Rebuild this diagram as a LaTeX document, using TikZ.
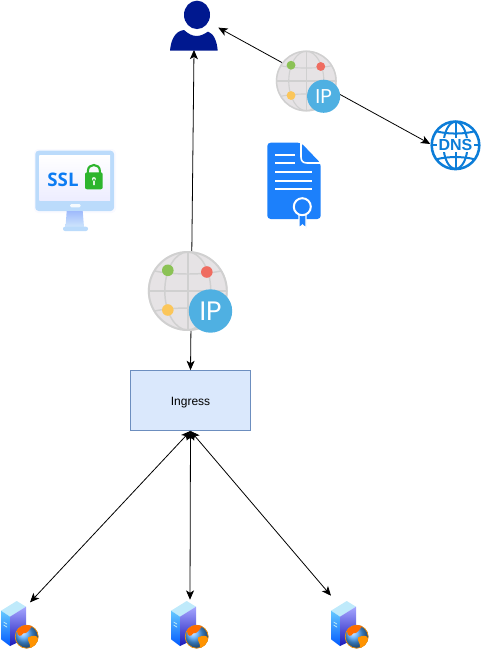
\documentclass[tikz,border=0pt]{standalone}
\usepackage{fontspec}
\setmainfont{Liberation Sans}
\newfontfamily\iconfont{Open Sans}
\newfontfamily\ipfont{Poppins}
\usetikzlibrary{arrows.meta}
\definecolor{UserBlue}{HTML}{00188F}
\definecolor{GlobeGrey}{HTML}{E6E3E5}
\definecolor{GlobeLine}{HTML}{D0D0D0}
\definecolor{DotGreen}{HTML}{8BC255}
\definecolor{DotRed}{HTML}{EF6C60}
\definecolor{DotYellow}{HTML}{FBC65A}
\definecolor{IpBlue}{HTML}{4FB0E2}
\definecolor{CertBlue}{HTML}{1C80FB}
\definecolor{DnsBlue}{HTML}{0C7DD8}
\definecolor{SslBlue}{HTML}{0D7CF2}
\definecolor{ScreenBlue}{HTML}{BBDBFB}
\definecolor{LockGreen}{HTML}{2DB52D}
\definecolor{IngressFill}{HTML}{DAE8FC}
\definecolor{IngressLine}{HTML}{6C8EBF}
\tikzset{
  % ── icons, local units are pixels around the centre ──────
  pics/usericon/.style={code={
    \fill[UserBlue] (3,-10.75) ellipse (13 and 14.2);
    \fill[UserBlue] (-24,25) .. controls (-23,14) and (-19,5.5) .. (-10,4.4)
      .. controls (-6,8) and (-2,10.4) .. (2.7,10.4)
      .. controls (7,10.4) and (11,8) .. (14,6)
      .. controls (20,8) and (23,16) .. (23.7,25) -- cycle;
  }},
  pics/ipglobe/.style 2 args={code={
    \fill[GlobeGrey] (0,0) circle (40);
    \draw[GlobeLine, line width=#2*1.3] (0,0) circle (39);
    \draw[GlobeLine, line width=#2] (0,0) ellipse (23 and 39);
    \draw[GlobeLine, line width=#2] (0,-39) -- (0,39) (-39,0) -- (39,0);
    \draw[GlobeLine, line width=#2] (-33,-20) .. controls (-15,-16) and (15,-16) .. (33,-20);
    \draw[GlobeLine, line width=#2] (-33,20) .. controls (-15,16) and (15,16) .. (33,20);
    \fill[DotGreen] (-20,-20.7) circle (5.8);
    \fill[DotRed] (19,-19) circle (5.8);
    \fill[DotYellow] (-20,19) circle (5.8);
    \fill[IpBlue] (22.7,20) circle (21.7);
    \node[text=white, font=\ipfont\fontsize{#1}{#1}\selectfont, inner sep=0pt] at (22.7,20) {IP};
  }},
  pics/sslscreen/.style={code={
    \fill[blue!2, rounded corners=3pt] (-41,-42) rectangle (41,22);
    \fill[ScreenBlue, rounded corners=2.5pt] (-39.7,-40.3) rectangle (39,20);
    \shade[top color=white, bottom color=blue!7] (-35.7,-36) rectangle (35,9);
    \fill[white!85!ScreenBlue, rounded corners=1pt] (-5,13) rectangle (5.7,16.3);
    \shade[top color=ScreenBlue!85!blue, bottom color=ScreenBlue!70] (-8.3,20) -- (7.7,20) -- (9,36) -- (-9.5,36) -- cycle;
    \fill[ScreenBlue, rounded corners=1.5pt] (-12,35.7) rectangle (13,40);
    \node[text=SslBlue, font=\iconfont\bfseries\fontsize{14}{14}\selectfont, inner sep=0pt] at (-12,-11.5) {SSL};
    \draw[LockGreen, line width=1.6pt] (12.9,-18) -- (12.9,-20) .. controls (12.9,-28) and (24.9,-28) .. (24.9,-20) -- (24.9,-18);
    \fill[LockGreen, rounded corners=1.5pt] (10,-18.7) rectangle (27.7,-1.7);
    \fill[white!85!LockGreen] (18.9,-12) circle (2) (18,-12) rectangle (19.8,-6);
  }},
  pics/certdoc/.style={code={
    \fill[CertBlue, rounded corners=2.5pt] (-26.7,-38.3) -- (7,-38.3) -- (26.7,-17.7) -- (26.7,38) -- (-26.7,38) -- cycle;
    \draw[white, line width=1.2pt] (7,-38.3) -- (7,-24) .. controls (7,-20) and (9,-18) .. (13,-18) -- (27,-18);
    \draw[white, line width=1.5pt] (-18.7,-26) -- (1,-26) (-18.7,-17.7) -- (1,-17.7)
      (-18.7,-8.7) -- (18,-8.7) (-18.7,-0.3) -- (18,-0.3) (-18.7,8.3) -- (18,8.3);
    \draw[white, fill=CertBlue, line width=1pt] (5,30) -- (5,47.3) -- (8.5,44) -- (12,47.3) -- (12,30);
    \draw[white, fill=CertBlue, line width=1.5pt] (8.3,25.7) circle (8.5);
  }},
  pics/dnsglobe/.style={code={
    \draw[DnsBlue, line width=1.5pt] (0,-23.5) -- (0,23.5);
    \draw[DnsBlue, line width=1.5pt] (0,0) ellipse (12 and 23.5);
    \draw[DnsBlue, line width=1.5pt] (-23.5,0) -- (23.5,0);
    \draw[DnsBlue, line width=1.5pt] (-19,-14) .. controls (-8,-11) and (8,-11) .. (19,-14);
    \draw[DnsBlue, line width=1.5pt] (-19,14) .. controls (-8,11) and (8,11) .. (19,14);
    \node[fill=white, text=DnsBlue, font=\bfseries\fontsize{12}{12}\selectfont, inner sep=1pt, minimum height=10pt] at (0,0) {DNS};
    \draw[DnsBlue, line width=1.9pt] (0,0) circle (23.8);
  }},
  pics/servericon/.style={code={
    \fill[cyan!25!white] (-19,-13.8) -- (-3.3,-23.5) -- (6,-17.8) -- (-10,-7.8) -- cycle;
    \shade[top color=blue!35!cyan!60, bottom color=blue!65!cyan] (-19,-13.8) -- (-10,-7.8) -- (-10,21.5) -- (-19,14.8) -- cycle;
    \shade[top color=blue!35!white, bottom color=blue!70!black!90] (-10,-7.8) -- (6,-17.8) -- (6,14) -- (-10,21.5) -- cycle;
    \fill[white!70!cyan] (-16.5,-3) -- (-13,-1) -- (-13,0) -- (-16.5,-2) -- cycle
      (-16.5,0) -- (-13,2) -- (-13,3) -- (-16.5,1) -- cycle;
    \shade[ball color=cyan!50!blue!70] (6.7,12.2) circle (11.7);
    \draw[orange!85!yellow, line width=.5pt] (6.7,12.2) circle (11.5);
    \fill[orange!85!red] (-3,6) .. controls (0,1) and (8,-1) .. (12,2) .. controls (9,5) and (8,9) .. (3,9) .. controls (1,13) and (-3,12) .. (-3,6) -- cycle;
    \fill[orange!85!yellow] (8,13) .. controls (12,11) and (17,10) .. (18,14) .. controls (17,19) and (13,23) .. (10,23) .. controls (11,19) and (7,17) .. (8,13) -- cycle;
  }}
}
\begin{document}
\begin{tikzpicture}[
  x=0.75pt, y=-0.75pt,
  % ── node styles ──────────────────────────────────────────
  iconbox/.style={inner sep=0pt, minimum width=#1*0.75pt, minimum height=#1*0.75pt},
  ingressbox/.style={
    draw=IngressLine, fill=IngressFill, line width=0.6pt,
    minimum width=90pt, minimum height=45pt,
    font=\fontsize{9}{9}\selectfont, inner sep=0pt,
    text height=9pt, text depth=1.8pt
  },
  % ── arrow style ──────────────────────────────────────────
  arr/.style={{Stealth[length=7pt,width=6pt,inset=1.8pt]}-{Stealth[length=7pt,width=6pt,inset=1.8pt]}, line width=0.6pt, color=black}
]
\useasboundingbox (0,0) rectangle (481,651);

%% ── Nodes ──
\node[iconbox=48]  (user)    at (194,25.6)   {};
\node[iconbox=50]  (dns)     at (455.5,145.3){};
\node[ingressbox]  (ingress) at (190.5,400.5){Ingress};
\node[iconbox=49]  (srvA)    at (20,624.5)   {};
\node[iconbox=49]  (srvB)    at (190,624.5)  {};
\node[iconbox=49]  (srvC)    at (350,624.5)  {};

%% ── Edges ──
\draw[arr] ([yshift=-1.5pt]user.east) -- ([yshift=1pt]dns.west);
\draw[arr] (user.south) -- (ingress.north);
\draw[arr] (ingress.south) -- ([xshift=7.5pt,yshift=-2pt]srvA.north);
\draw[arr] (ingress.south) -- (srvB.north);
\draw[arr] (ingress.south) -- ([xshift=-14.25pt,yshift=3pt]srvC.north);

%% ── Icons ──
\pic at (user) {usericon};
\pic[scale=0.7625] at (306.3,81) {ipglobe={15}{0.85pt}};
\pic at (187.8,291) {ipglobe={20}{1.1pt}};
\pic at (75,191) {sslscreen};
\pic at (294,181) {certdoc};
\pic at (dns) {dnsglobe};
\pic at (srvA) {servericon};
\pic at (srvB) {servericon};
\pic at (srvC) {servericon};

\end{tikzpicture}
\end{document}
